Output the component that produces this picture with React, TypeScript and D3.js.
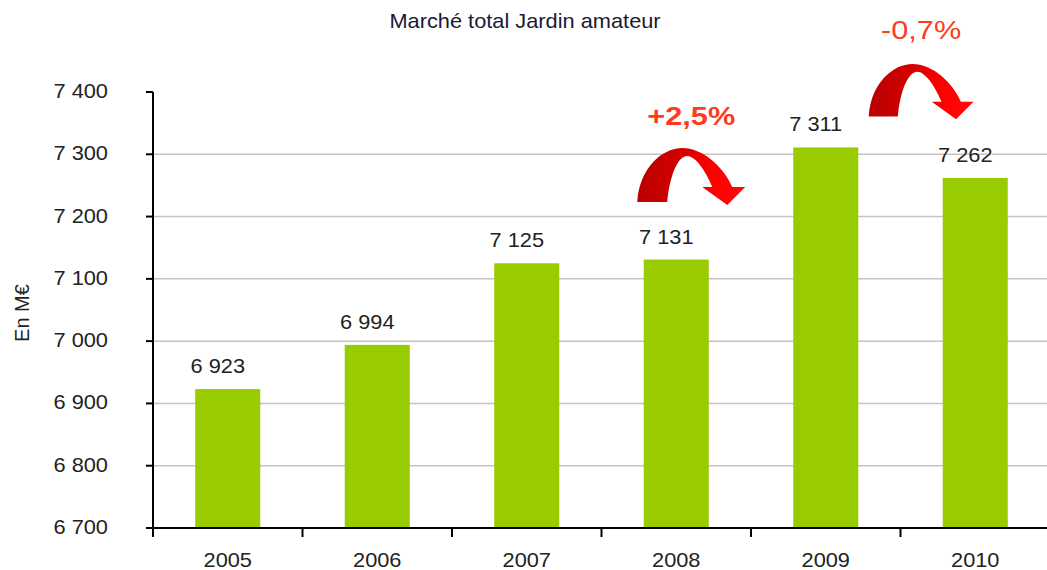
import React from 'react';
import * as d3 from 'd3';

// chart data
const years = ['2005', '2006', '2007', '2008', '2009', '2010'];
const values = [6923, 6994, 7125, 7131, 7311, 7262];
const yTicks = [6700, 6800, 6900, 7000, 7100, 7200, 7300, 7400];
const gridTicks = [6800, 6900, 7000, 7100, 7200, 7300];
const title = 'Marché total Jardin amateur';
const yLabel = 'En M€';
// growth annotations: arrow drawn from one year towards the next
const notes = [
    { year: '2008', label: '+2,5%', bold: true, dx: -39, top: 148, textY: 125, scale: 1 },
    { year: '2009', label: '-0,7%', bold: false, dx: 43, top: 64, textY: 39, scale: 0.97 }
];

const W = 1047;
const H = 570;
const FONT = 'Liberation Sans, Arial, sans-serif';
const SX = 1.09; // source picture text is a bit stretched horizontally

const fr = d3.formatLocale({ decimal: ',', thousands: ' ', grouping: [3], currency: ['', '€'] });
const fmt = fr.format(',d');

// curved arrow, local coords (approx 108 x 57)
const arrowPath =
    'M0 54 C2 20 25 0 45 0 C65 0 86 18 95 39 L108 39 L90 57 L65 39 L75 39 ' +
    'C68 22 58 8 50 8 C40 8 32 30 30 54 Z';

function Txt({ x, y, children, size, anchor = 'middle', weight = 'normal', fill = '#222', sx = SX }: any) {
    return (
        <text
            transform={`translate(${x},${y}) scale(${sx},1)`}
            textAnchor={anchor}
            fontSize={size}
            fontWeight={weight}
            fill={fill}
            fontFamily={FONT}
        >
            {children}
        </text>
    );
}

export default function App() {
    const x = d3.scaleBand().domain(years).range([153, 1050]).paddingInner(0.565).paddingOuter(0.2825);
    const y = d3.scaleLinear().domain([6700, 7400]).range([528, 92]);
    const step = x.step();
    const x0 = 153;
    const yBase = y(6700);
    const bounds = d3.range(years.length + 1).map(i => x0 + i * step);

    return (
        <div style={{ position: 'absolute', left: 0, top: 0 }}>
            <svg width={W} height={H} style={{ display: 'block', background: '#fff' }}>
                <defs>
                    <linearGradient id="arrowGrad" x1="0" x2="1" y1="0" y2="0">
                        <stop offset="0" stopColor="#b80000" />
                        <stop offset="0.45" stopColor="#d80000" />
                        <stop offset="0.7" stopColor="#ff0000" />
                        <stop offset="1" stopColor="#ff0a0a" />
                    </linearGradient>
                </defs>

                <Txt x={525} y={28} size={20} fill="#1a1a33">{title}</Txt>

                {/* grid */}
                {gridTicks.map(t => (
                    <line key={t} x1={x0} x2={W} y1={y(t)} y2={y(t)} stroke="#c4c4c4" strokeWidth={1.5} />
                ))}

                {/* bars */}
                {years.map((yr, i) => (
                    <rect
                        key={yr}
                        x={x(yr)}
                        y={y(values[i])}
                        width={x.bandwidth()}
                        height={yBase - y(values[i])}
                        fill="#99cc00"
                    />
                ))}

                {/* axes */}
                <line x1={x0} x2={x0} y1={y(7400)} y2={yBase + 9} stroke="#000" strokeWidth={2} />
                <line x1={x0} x2={W} y1={yBase} y2={yBase} stroke="#000" strokeWidth={2} />
                {yTicks.map(t => (
                    <g key={t}>
                        <line x1={x0 - 7} x2={x0} y1={y(t)} y2={y(t)} stroke="#000" strokeWidth={2} />
                        <Txt x={108} y={y(t) + 6} size={20} anchor="end">{fmt(t)}</Txt>
                    </g>
                ))}
                {bounds.map((b, i) => (
                    <line key={i} x1={b} x2={b} y1={yBase} y2={yBase + 9} stroke="#000" strokeWidth={2} />
                ))}
                {years.map(yr => (
                    <Txt key={yr} x={x(yr)! + x.bandwidth() / 2} y={567} size={20}>{yr}</Txt>
                ))}

                <g transform="translate(29,313) rotate(-90)">
                    <text textAnchor="middle" fontSize={20} fill="#222" fontFamily={FONT}>{yLabel}</text>
                </g>

                {/* value labels */}
                {years.map((yr, i) => (
                    <Txt key={yr} x={x(yr)! + x.bandwidth() / 2 - 10} y={y(values[i]) - 16} size={20}>
                        {fmt(values[i])}
                    </Txt>
                ))}

                {/* growth arrows */}
                {notes.map(n => {
                    const cx = x(n.year)! + x.bandwidth() / 2 + n.dx;
                    return (
                        <g key={n.year}>
                            <path
                                d={arrowPath}
                                transform={`translate(${cx},${n.top}) scale(${n.scale})`}
                                fill="url(#arrowGrad)"
                            />
                            <Txt
                                x={cx + 54 * n.scale}
                                y={n.textY}
                                size={26}
                                weight={n.bold ? 'bold' : 'normal'}
                                fill="#ff3b1f"
                                sx={1.18}
                            >
                                {n.label}
                            </Txt>
                        </g>
                    );
                })}
            </svg>
        </div>
    );
}
